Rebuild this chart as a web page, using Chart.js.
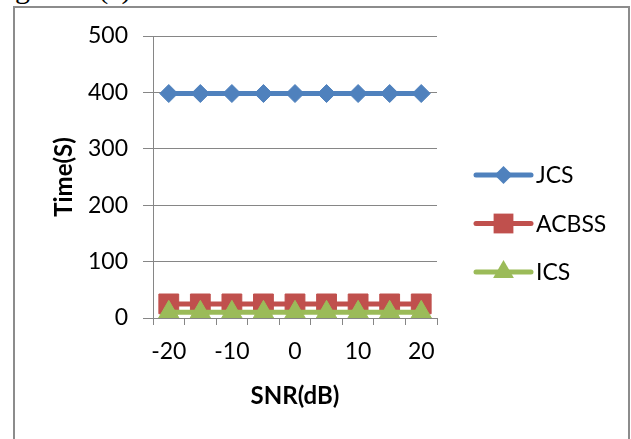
<!DOCTYPE html>
<html>
<head>
<meta charset="utf-8">
<title>Time vs SNR</title>
<script src="https://cdn.jsdelivr.net/npm/chart.js@4/dist/chart.umd.min.js"></script>
<style>
  html, body { margin: 0; padding: 0; background: #fff; }
  body { width: 631px; height: 439px; position: relative; overflow: hidden; }
  #caption { position: absolute; left: 15px; top: -29px; font: 30px "Liberation Serif", serif; color: #000; white-space: nowrap; }
  #frame { position: absolute; left: 13px; top: 6px; width: 613px; height: 470px; border: 2px solid #8c8c8c; background: #fff; }
  #chart { position: absolute; left: 0; top: 0; }
</style>
</head>
<body>
<div id="caption">gure 3 (a).</div>
<div id="frame"></div>
<canvas id="chart" width="631" height="439"></canvas>
<script>
// values
const snrLabels = ["-20", "-15", "-10", "-5", "0", "5", "10", "15", "20"];
const jcsTimes = [398, 398, 398, 398, 398, 398, 398, 398, 398];
const acbssTimes = [25, 25, 25, 25, 25, 25, 25, 25, 25];
const icsTimes = [10, 10, 10, 10, 10, 10, 10, 10, 10];
const yTicks = [0, 100, 200, 300, 400, 500];

const axisGray = "#868686";
const tickFont = { family: "Lato", size: 23 };
const titleFont = { family: "Lato", size: 24, weight: "bold" };

function drawMarker(ctx, style, x, y, r) {
    ctx.beginPath();
    if (style === "rectRot") {
        ctx.moveTo(x - r, y);
        ctx.lineTo(x, y - r);
        ctx.lineTo(x + r, y);
        ctx.lineTo(x, y + r);
    } else if (style === "rect") {
        const s = r * Math.SQRT1_2;
        ctx.rect(x - s, y - s, 2 * s, 2 * s);
    } else {
        const w = r * Math.sin(Math.PI * 2 / 3);
        ctx.moveTo(x, y - r);
        ctx.lineTo(x + w, y + r / 2);
        ctx.lineTo(x - w, y + r / 2);
    }
    ctx.closePath();
    ctx.fill();
}

// Excel-style legend: line with the marker in the middle, text to the right
const sideLegend = {
    id: "sideLegend",
    afterDraw(chart) {
        const ctx = chart.ctx;
        const x0 = 476, x1 = 531;
        chart.data.datasets.forEach((ds, i) => {
            const y = 175 + i * 48.5;
            ctx.save();
            ctx.strokeStyle = ds.borderColor;
            ctx.lineWidth = ds.borderWidth;
            ctx.lineCap = "round";
            ctx.beginPath();
            ctx.moveTo(x0, y);
            ctx.lineTo(x1, y);
            ctx.stroke();
            ctx.fillStyle = ds.pointBackgroundColor;
            drawMarker(ctx, ds.pointStyle, (x0 + x1) / 2, y, ds.pointRadius);
            ctx.fillStyle = "#000";
            ctx.font = `${tickFont.size}px ${tickFont.family}`;
            ctx.textBaseline = "middle";
            ctx.fillText(ds.label, 536, y + 1);
            ctx.restore();
        });
    }
};

const ctx = document.getElementById("chart").getContext("2d");
new Chart(ctx, {
    type: "line",
    data: {
        labels: snrLabels,
        datasets: [{
            label: "JCS",
            data: jcsTimes,
            borderColor: "#4F81BD",
            backgroundColor: "#4F81BD",
            pointBackgroundColor: "#4F81BD",
            pointBorderColor: "#4F81BD",
            borderWidth: 5,
            pointStyle: "rectRot",
            pointRadius: 9,
            pointBorderWidth: 1,
            order: 2
        }, {
            label: "ACBSS",
            data: acbssTimes,
            borderColor: "#C0504D",
            backgroundColor: "#C0504D",
            pointBackgroundColor: "#C0504D",
            pointBorderColor: "#C0504D",
            borderWidth: 5,
            pointStyle: "rect",
            pointRadius: 14,
            pointBorderWidth: 1,
            order: 1
        }, {
            label: "ICS",
            data: icsTimes,
            borderColor: "#9BBB59",
            backgroundColor: "#9BBB59",
            pointBackgroundColor: "#9BBB59",
            pointBorderColor: "#9BBB59",
            borderWidth: 5,
            pointStyle: "triangle",
            pointRadius: 12,
            pointBorderWidth: 1,
            order: 0
        }]
    },
    options: {
        responsive: false,
        animation: false,
        layout: { padding: { left: 0, top: 36, right: 194, bottom: 0 } },
        plugins: { legend: { display: false }, tooltip: { enabled: false } },
        scales: {
            x: {
                offset: true,
                grid: { offset: true, drawOnChartArea: false, tickLength: 7, color: axisGray, tickColor: axisGray },
                border: { color: axisGray },
                ticks: {
                    autoSkip: false,
                    maxRotation: 0,
                    padding: 13,
                    color: "#000",
                    font: tickFont,
                    callback(value, index) { return index % 2 === 0 ? this.getLabelForValue(value) : ""; }
                },
                title: { display: true, text: "SNR(dB)", color: "#000", font: titleFont, padding: { top: 0, bottom: 28 } },
                afterFit(scale) { scale.height = 121; }
            },
            y: {
                min: yTicks[0],
                max: yTicks[yTicks.length - 1],
                grid: { color: axisGray, tickColor: axisGray, tickLength: 10 },
                border: { color: axisGray },
                ticks: { stepSize: yTicks[1] - yTicks[0], padding: 15, color: "#000", font: tickFont },
                title: { display: true, text: "Time(S)", color: "#000", font: titleFont, padding: { top: 50, bottom: 0 } },
                afterFit(scale) { scale.width = 153; }
            }
        }
    },
    plugins: [sideLegend]
});
</script>
</body>
</html>
